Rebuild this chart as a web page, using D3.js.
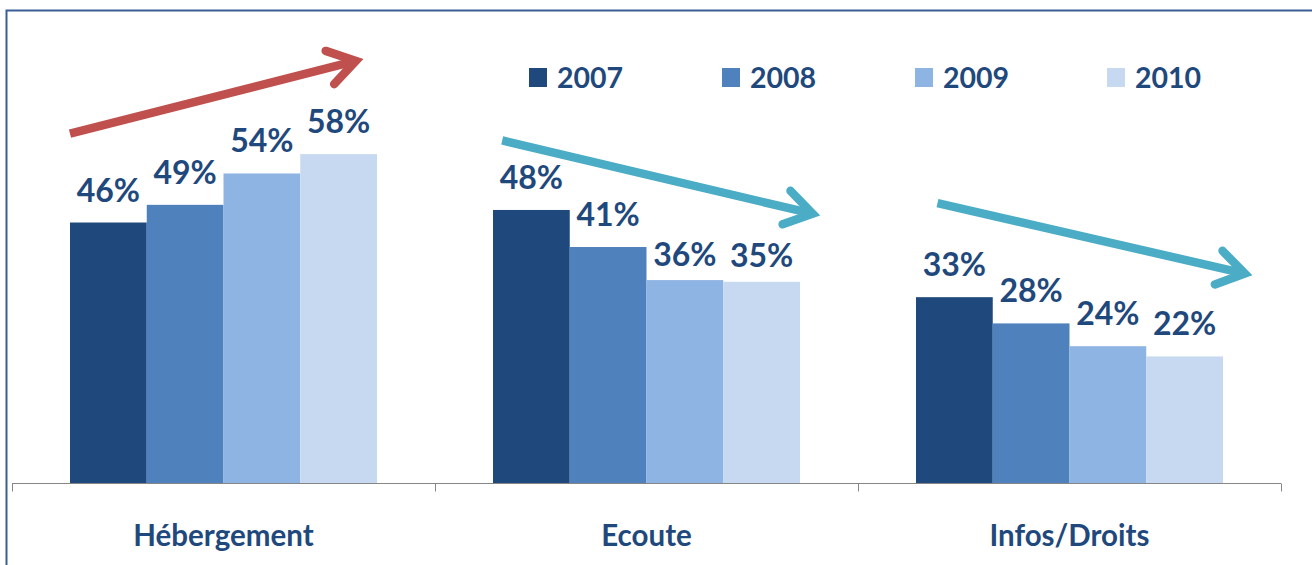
<!DOCTYPE html>
<html><head><meta charset="utf-8">
<script src="https://cdn.jsdelivr.net/npm/d3@7"></script>
<style>html,body{margin:0;padding:0;background:#fff;overflow:hidden}svg{display:block}</style>
</head><body>
<script>
const categories = ["Hébergement", "Ecoute", "Infos/Droits"];
const years = ["2007", "2008", "2009", "2010"];
const values2007 = [0.457, 0.479, 0.326];
const values2008 = [0.488, 0.414, 0.280];
const values2009 = [0.543, 0.356, 0.240];
const values2010 = [0.577, 0.353, 0.222];
const colors = ["#1f497d", "#4f81bd", "#8eb4e3", "#c6d9f1"];
// trend arrows in data space: category, position within group (0..1), value
const arrows = [
  {cat: "Hébergement", x0: 0.0, y0: 0.613, x1: 0.95, y1: 0.743, color: "#c0504d"},
  {cat: "Ecoute", x0: 0.03, y0: 0.601, x1: 1.06, y1: 0.470, color: "#4bacc6"},
  {cat: "Infos/Droits", x0: 0.07, y0: 0.491, x1: 1.09, y1: 0.365, color: "#4bacc6"}
];
const series = [values2007, values2008, values2009, values2010];
// label gap above bar (px), per category x series (styling)
const labelGaps = [[21, 21, 21, 21], [21, 21, 14, 15], [21, 21, 21, 21]];

const W = 1312, H = 565;
const svg = d3.select("body").append("svg").attr("width", W).attr("height", H);
const font = "Lato, 'Open Sans', sans-serif";
const textColor = "#1f497d";

svg.append("rect").attr("x", 6.5).attr("y", 10.5).attr("width", W + 20).attr("height", H + 20)
  .attr("fill", "none").attr("stroke", "#3a5f94").attr("stroke-width", 2);

const x0 = d3.scaleBand().domain(categories).range([12, 1281]).paddingInner(0.2742).paddingOuter(0.1371);
const x1 = d3.scaleBand().domain(years).range([0, x0.bandwidth()]);
const y = d3.scaleLinear().domain([0, 0.8]).range([483, 27]);

// axis
const axis = d3.axisBottom(x0).tickSize(0).tickFormat("");
const gAxis = svg.append("g").attr("transform", "translate(0,483.5)").call(axis);
gAxis.select(".domain").attr("stroke", "#868686").attr("d", "M12,0H1281");
const bounds = [12, ...categories.map((c, i) => x0(c) + x0.bandwidth() + x0.step() * x0.paddingInner() / 2)];
bounds[bounds.length - 1] = 1281;
gAxis.selectAll(".bound").data(bounds).enter().append("line").attr("class", "bound")
  .attr("x1", d => Math.round(d) + 0.5).attr("x2", d => Math.round(d) + 0.5)
  .attr("y1", 0).attr("y2", 8).attr("stroke", "#868686");

// category labels
svg.append("g").selectAll("text").data(categories).enter().append("text")
  .attr("x", d => x0(d) + x0.bandwidth() / 2).attr("y", 546)
  .attr("text-anchor", "middle").attr("font-family", font).attr("font-weight", 700)
  .attr("font-size", 29.5).attr("fill", textColor).text(d => d);

// bars
const groups = svg.append("g").selectAll("g").data(categories).enter().append("g")
  .attr("transform", d => `translate(${x0(d)},0)`);
groups.each(function(cat, ci) {
  const g = d3.select(this);
  const data = years.map((yr, si) => ({yr, si, v: series[si][ci], gap: labelGaps[ci][si]}));
  g.selectAll("rect").data(data).enter().append("rect")
    .attr("x", d => x1(d.yr)).attr("width", x1.bandwidth())
    .attr("y", d => y(d.v)).attr("height", d => y(0) - y(d.v))
    .attr("fill", d => colors[d.si]);
  g.selectAll("text").data(data).enter().append("text")
    .attr("x", d => x1(d.yr) + x1.bandwidth() / 2).attr("y", d => y(d.v) - d.gap)
    .attr("text-anchor", "middle").attr("font-family", font).attr("font-weight", 700)
    .attr("font-size", 32).attr("fill", textColor)
    .text(d => Math.round(d.v * 100) + "%");
});

// legend
const legendX = [529, 722, 915, 1107];
const lg = svg.append("g").selectAll("g").data(years).enter().append("g")
  .attr("transform", (d, i) => `translate(${legendX[i]},0)`);
lg.append("rect").attr("x", 0).attr("y", 68).attr("width", 18).attr("height", 19)
  .attr("fill", (d, i) => colors[i]);
lg.append("text").attr("x", 28).attr("y", 88).attr("font-family", font).attr("font-weight", 700)
  .attr("font-size", 28.5).attr("fill", textColor).text(d => d);

// arrows
const ag = svg.append("g");
arrows.forEach(a => {
  const sx = x0(a.cat) + a.x0 * x0.bandwidth(), sy = y(a.y0);
  const tx = x0(a.cat) + a.x1 * x0.bandwidth(), ty = y(a.y1);
  const ang = Math.atan2(ty - sy, tx - sx);
  const L = 37, spread = Math.PI / 6.5;
  const p1 = [tx - L * Math.cos(ang - spread), ty - L * Math.sin(ang - spread)];
  const p2 = [tx - L * Math.cos(ang + spread), ty - L * Math.sin(ang + spread)];
  const ex = tx - 6 * Math.cos(ang), ey = ty - 6 * Math.sin(ang);
  ag.append("line").attr("x1", sx).attr("y1", sy).attr("x2", ex).attr("y2", ey)
    .attr("stroke", a.color).attr("stroke-width", 8.5);
  ag.append("path").attr("d", `M${p1[0]},${p1[1]}L${ex},${ey}L${p2[0]},${p2[1]}`)
    .attr("fill", "none").attr("stroke", a.color).attr("stroke-width", 8.5)
    .attr("stroke-linecap", "round").attr("stroke-linejoin", "miter");
});
</script>
</body></html>
